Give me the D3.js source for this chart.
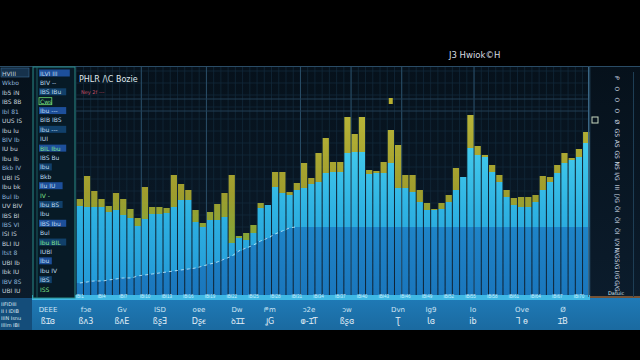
<!DOCTYPE html>
<html>
<head>
<meta charset="utf-8">
<script src="https://cdn.jsdelivr.net/npm/d3@7"></script>
<style>
  body { margin: 0; background: #000; }
  svg { display: block; font-family: "DejaVu Sans", sans-serif; }
</style>
</head>
<body>
<svg id="chart" width="640" height="360"></svg>
<script>
// ---- data ----
const categories = d3.range(1, 72);

// lower (darker) part of each bar, also the dashed trend line
const baseVals = [14, 15, 16, 16, 17, 18, 19, 19, 21, 22, 23, 24, 25, 26, 27, 28, 29, 31, 33, 35,
  38, 41, 46, 49, 52, 56, 59, 63, 66, 69, 70, 70, 70, 70, 70, 70, 70, 70, 70, 70,
  70, 70, 70, 70, 70, 70, 70, 70, 70, 70, 70, 70, 70, 70, 70, 70, 70, 70, 70, 70,
  70, 70, 70, 70, 70, 70, 70, 70, 70, 70, 70];

// top of the blue part
const blueVals = [91, 90, 90, 90, 85, 87, 82, 79, 71, 78, 83, 83, 84, 90, 97, 97, 75, 70, 77, 77,
  80, 54, 59, 57, 64, 89, 92, 110, 104, 102, 107, 109, 113, 115, 124, 125, 125, 144, 145, 145,
  123, 124, 124, 134, 109, 109, 105, 95, 87, 87, 88, 95, 107, 120, 149, 142, 140, 125, 115, 100,
  92, 90, 90, 95, 107, 115, 124, 134, 137, 140, 154];

// top of the yellow cap
const topVals = [98, 121, 106, 98, 91, 104, 98, 88, 79, 110, 90, 90, 89, 122, 113, 107, 87, 74, 85, 93,
  104, 122, 61, 64, 72, 94, 92, 125, 125, 105, 114, 134, 119, 144, 159, 135, 135, 180, 163, 180,
  127, 126, 135, 167, 152, 122, 122, 107, 94, 88, 94, 102, 129, 120, 182, 151, 142, 132, 122, 107,
  99, 100, 100, 102, 121, 120, 132, 144, 139, 148, 165];

const bottomTop = ["DEEE", "fɔe", "Gv", "ISD", "oɐe", "Dw", "ᖘm", "ɔ2e", "ɔw", "Dvn", "Ig9", "Io", "Ove", "Ø"];
const bottomSub = ["ßꞮɞ", "ßʌ3", "ßʌE", "ßʂƎ", "Dʂꞓ", "ꝺꞮꞮ", "ꞲG", "ⱷ-ꞮT", "ßʂɞ", "Ʈ", "Ɩɞ", "ib", "Ꞁ ɵ", "ꞮB"];
const bottomPos = [48, 86, 122, 160, 199, 237, 270, 309, 347, 398, 431, 473, 522, 563];

const sideLeft = ["HVIII", "Wkbo", "Ib5 iN", "IBS 8B", "Ibl 81", "UUS IS", "Ibu Iu", "BIV Ib",
  "IU bu", "Ibu Ib", "Bkb IV", "UBI IS", "Ibu bk", "Bul Ib", "UV BIV", "IBS BI", "IBS VI",
  "ISI IS", "BLI IU", "ltst 8", "UBI Ib", "Ibk IU", "IBV 8S", "UBI IU"];
const sideRight = ["ILVI III", "BIV --", "IBS IBu", "Cws", "Ibu ---", "BIB IBS", "Ibu ---", "IUI",
  "BIL Ibu", "IBS Bu", "Ibu", "Bkb", "Ilu IU", "IV -", "Ibu BS", "Ibu", "IBS Ibu", "Bul",
  "Ibu BIL", "IUBl", "Ibu", "Ibu IV", "IBS", "ISS"];
const glyphs = ["ᑭ", "O", "O", "O", "Ø", "GS", "AS", "GS", "NS", "I/G", "III", "[/G", "ÖI", "ÖI",
  "ÖI", "I/ꓘ", "N/G", "S/G", "I/G", "G/G"];

const chartTitle = "J3 Hwiok©H";
const plotTitle = "PHLR /\\C Bozie";
const plotSub = "Ney 2f ---";

// ---- layout ----
const width = 640, height = 360;
const margin = { top: 67, right: 50, bottom: 63, left: 76 };
const innerWidth = width - margin.left - margin.right;
const innerHeight = height - margin.top - margin.bottom;

const svg = d3.select("#chart");
const defs = svg.append("defs");

const grad = (id, y1, y2, stops) => {
  const lg = defs.append("linearGradient").attr("id", id)
    .attr("gradientUnits", "userSpaceOnUse")
    .attr("x1", 0).attr("x2", 0).attr("y1", y1).attr("y2", y2);
  stops.forEach(([o, c]) => lg.append("stop").attr("offset", o).attr("stop-color", c));
};
grad("gMid", 40, 230, [[0, "#4fd8f2"], [0.55, "#2eb2e2"], [1, "#2296d6"]]);
grad("gBase", 100, 230, [[0, "#2290d2"], [1, "#1a76bc"]]);
grad("gTop", 40, 180, [[0, "#d6d03c"], [0.6, "#b8b22e"], [1, "#94be3c"]]);
grad("gBand", 298, 330, [[0, "#1f7ab6"], [1, "#1a6aa0"]]);
grad("gPanel", 66, 298, [[0, "#06111b"], [1, "#0b1c2c"]]);

svg.append("rect").attr("width", width).attr("height", height).attr("fill", "#000");
svg.append("rect").attr("x", 0).attr("y", 66).attr("width", width).attr("height", 232)
  .attr("fill", "url(#gPanel)");
svg.append("line").attr("x1", 0).attr("x2", width).attr("y1", 66.5).attr("y2", 66.5)
  .attr("stroke", "#2a4c66").attr("stroke-width", 1);

// title at top
svg.append("text").attr("x", 449).attr("y", 58).attr("fill", "#d8dde2")
  .attr("font-size", 8.5).text(chartTitle);

// ---- plot ----
const g = svg.append("g").attr("transform", `translate(${margin.left},${margin.top})`);

const xScale = d3.scaleBand().domain(categories).range([0, innerWidth])
  .paddingInner(0.14).paddingOuter(0.1);
const yScale = d3.scaleLinear().domain([0, 230]).range([innerHeight, 0]);

// grid
const grid = g.append("g").attr("class", "grid");
grid.selectAll(".vg").data(categories).enter().append("line")
  .attr("x1", (d) => xScale(d) - 0.5).attr("x2", (d) => xScale(d) - 0.5)
  .attr("y1", 0).attr("y2", innerHeight)
  .attr("stroke", "#12283a").attr("stroke-width", 0.8);
grid.selectAll(".hg").data(d3.range(10, 230, 12)).enter().append("line")
  .attr("x1", 0).attr("x2", innerWidth)
  .attr("y1", (d) => yScale(d)).attr("y2", (d) => yScale(d))
  .attr("stroke", "#12283a").attr("stroke-width", 0.8);
const majorX = [9, 18, 31, 38, 45, 55, 71];
grid.selectAll(".mg").data(majorX).enter().append("line")
  .attr("x1", (d) => xScale(d) + xScale.bandwidth() + 0.5)
  .attr("x2", (d) => xScale(d) + xScale.bandwidth() + 0.5)
  .attr("y1", 0).attr("y2", innerHeight)
  .attr("stroke", "#2a4e68").attr("stroke-width", 1);
grid.selectAll(".mh").data([198, 186]).enter().append("line")
  .attr("x1", 0).attr("x2", innerWidth)
  .attr("y1", (d) => yScale(d)).attr("y2", (d) => yScale(d))
  .attr("stroke", "#223e55").attr("stroke-width", 1);

// bars
const rows = categories.map((c, i) => ({ c, base: baseVals[i], blue: blueVals[i], top: topVals[i] }));
const bars = g.append("g").attr("class", "bars");
bars.selectAll(".seg-top").data(rows).enter().append("rect")
  .attr("x", (d) => xScale(d.c)).attr("width", xScale.bandwidth())
  .attr("y", (d) => yScale(d.top)).attr("height", (d) => Math.max(0, yScale(d.blue) - yScale(d.top)))
  .attr("fill", "url(#gTop)").attr("opacity", 0.86);
bars.selectAll(".seg-mid").data(rows).enter().append("rect")
  .attr("x", (d) => xScale(d.c)).attr("width", xScale.bandwidth())
  .attr("y", (d) => yScale(d.blue)).attr("height", (d) => yScale(d.base) - yScale(d.blue))
  .attr("fill", "url(#gMid)");
bars.selectAll(".seg-base").data(rows).enter().append("rect")
  .attr("x", (d) => xScale(d.c)).attr("width", xScale.bandwidth())
  .attr("y", (d) => yScale(d.base)).attr("height", (d) => innerHeight - yScale(d.base))
  .attr("fill", "url(#gBase)");

// dashed trend line over the rising part
const lineGenerator = d3.line()
  .x((d) => xScale(d.c) + xScale.bandwidth() / 2)
  .y((d) => yScale(d.base))
  .curve(d3.curveMonotoneX);
g.append("path").datum(rows.slice(0, 31))
  .attr("d", lineGenerator)
  .attr("fill", "none").attr("stroke", "#d8f4ff").attr("stroke-width", 1)
  .attr("stroke-dasharray", "3,3").attr("opacity", 0.75);

// plot titles
g.append("text").attr("x", 3).attr("y", 15).attr("fill", "#dfe6ea")
  .attr("font-size", 8).text(plotTitle);
g.append("text").attr("x", 5).attr("y", 27).attr("fill", "#c0506a")
  .attr("font-size", 5).text(plotSub);

// small markers
g.append("rect").attr("x", xScale(44) + 1).attr("y", 31).attr("width", 4).attr("height", 6)
  .attr("fill", "#b8b030");
svg.append("rect").attr("x", 592).attr("y", 117).attr("width", 6).attr("height", 6)
  .attr("fill", "none").attr("stroke", "#c8d8c0").attr("stroke-width", 1);

// bottom label band
svg.append("rect").attr("x", 0).attr("y", 298).attr("width", width).attr("height", 32)
  .attr("fill", "url(#gBand)");
svg.append("rect").attr("x", 0).attr("y", 298).attr("width", 32).attr("height", 32)
  .attr("fill", "#144d7a");
svg.append("line").attr("x1", 588).attr("x2", width).attr("y1", 297).attr("y2", 297)
  .attr("stroke", "#e08a40").attr("stroke-width", 1.2);
svg.append("text").attr("x", 608).attr("y", 295).attr("fill", "#d8e8f0")
  .attr("font-size", 5).text("Datuic");

// x axis strip (on top of the band)
const axisStrip = svg.append("g").attr("transform", `translate(${margin.left},${height - margin.bottom})`);
axisStrip.append("rect").attr("x", -44).attr("y", -2).attr("width", innerWidth + 44).attr("height", 5)
  .attr("fill", "#3fb8e4");
const xAxis = d3.axisBottom(xScale).tickSize(0).tickPadding(-2)
  .tickValues(categories.filter((d) => d % 3 === 1)).tickFormat((d) => "IBI" + d);
axisStrip.call(xAxis).select(".domain").remove();
axisStrip.selectAll("text").attr("font-size", 4.5).attr("fill", "#c8f0ff");

const bl = svg.append("g");
bl.selectAll(".bt").data(bottomTop).enter().append("text")
  .attr("x", (d, i) => bottomPos[i]).attr("y", 312)
  .attr("text-anchor", "middle").attr("font-size", 7).attr("fill", "#cfe6f4")
  .text((d) => d);
bl.selectAll(".bs").data(bottomSub).enter().append("text")
  .attr("x", (d, i) => bottomPos[i]).attr("y", 324)
  .attr("text-anchor", "middle").attr("font-size", 8).attr("fill", "#e2eef6")
  .text((d) => d);
["IIFIDIII", "II I IDIB", "IIIN Isnu", "Illlm IBI"].forEach((t, i) => {
  svg.append("text").attr("x", 1).attr("y", 306 + i * 7).attr("font-size", 5)
    .attr("fill", "#d6e6f0").text(t);
});

// left side panels
const sideY = d3.scalePoint().domain(d3.range(sideLeft.length)).range([74, 291]);
svg.append("rect").attr("x", 1).attr("y", 68).attr("width", 28).attr("height", 9)
  .attr("fill", "#16324c").attr("stroke", "#3a6a90").attr("stroke-width", 0.6);
svg.append("g").selectAll("text").data(sideLeft).enter().append("text")
  .attr("x", 2).attr("y", (d, i) => sideY(i) + 2)
  .attr("font-size", 6)
  .attr("fill", (d, i) => (i % 3 === 1 ? "#8fb4d8" : "#c6d2dc"))
  .text((d) => d);

svg.append("rect").attr("x", 33).attr("y", 67).attr("width", 42).attr("height", 231)
  .attr("fill", "#071a26").attr("stroke", "#2b8c88").attr("stroke-width", 1);
svg.append("line").attr("x1", 37).attr("x2", 37).attr("y1", 67).attr("y2", 298)
  .attr("stroke", "#1f6f70").attr("stroke-width", 0.8);
const sideY2 = d3.scalePoint().domain(d3.range(sideRight.length)).range([74, 290]);
const sr = svg.append("g").selectAll("g").data(sideRight).enter().append("g")
  .attr("transform", (d, i) => `translate(40,${sideY2(i)})`);
sr.append("rect").attr("x", -1).attr("y", -4.5).attr("height", 7)
  .attr("width", (d) => d.length * 3.6 + 2)
  .attr("fill", (d, i) => (i % 4 === 0 ? "#1d4f9a" : i % 4 === 2 ? "#11406a" : "none"))
  .attr("stroke", (d, i) => (i === 3 ? "#6ee070" : "none")).attr("stroke-width", 0.8);
sr.append("text").attr("y", 1.5).attr("font-size", 6)
  .attr("fill", (d, i) => (i % 5 === 3 ? "#7ee08a" : "#bcd8ee"))
  .text((d) => d);

// right glyph column
svg.append("line").attr("x1", 588.5).attr("x2", 588.5).attr("y1", 67).attr("y2", 297)
  .attr("stroke", "#3a6684").attr("stroke-width", 1);
svg.append("line").attr("x1", 633.5).attr("x2", 633.5).attr("y1", 72).attr("y2", 297)
  .attr("stroke", "#1e3e55").attr("stroke-width", 1);
const gy = d3.scalePoint().domain(d3.range(glyphs.length)).range([78, 286]);
svg.append("g").selectAll("text").data(glyphs).enter().append("text")
  .attr("transform", (d, i) => `translate(615,${gy(i)}) rotate(90)`)
  .attr("text-anchor", "middle").attr("font-size", 6).attr("fill", "#d0dde6")
  .text((d) => d);
</script>
</body>
</html>
